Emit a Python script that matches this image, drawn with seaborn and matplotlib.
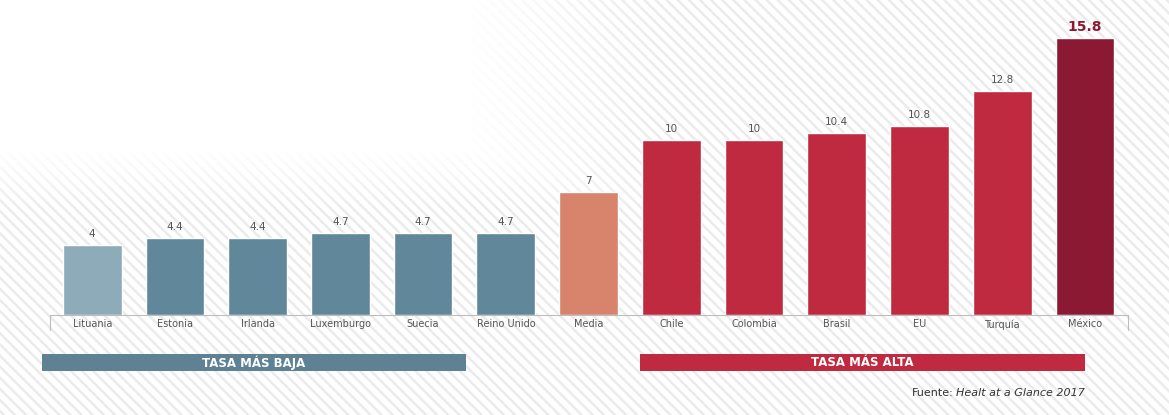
import numpy as np
import pandas as pd
import matplotlib
matplotlib.use("Agg")
import matplotlib.pyplot as plt
from matplotlib.patches import Rectangle
import seaborn as sns

# Tasa por país (Health at a Glance 2017)
paises = ["Lituania", "Estonia", "Irlanda", "Luxemburgo", "Suecia", "Reino Unido",
          "Media", "Chile", "Colombia", "Brasil", "EU", "Turquía", "México"]
tasas = [4, 4.4, 4.4, 4.7, 4.7, 4.7, 7, 10, 10, 10.4, 10.8, 12.8, 15.8]
etiquetas = ["4", "4.4", "4.4", "4.7", "4.7", "4.7", "7", "10", "10", "10.4", "10.8", "12.8", "15.8"]
colores = ["#8eabb9", "#60879a", "#60879a", "#60879a", "#60879a", "#60879a",
           "#d8836b", "#c02a40", "#c02a40", "#c02a40", "#c02a40", "#c02a40", "#8b1934"]

sns.set_theme(style="white")
plt.rcParams["font.family"] = ["DejaVu Sans"]

W, H = 1169, 415
fig = plt.figure(figsize=(W / 100, H / 100), dpi=100)

# Fondo rayado en diagonal
plt.rcParams["hatch.linewidth"] = 1.8
bg = Rectangle((0, 0), 1, 1, transform=fig.transFigure, facecolor="white",
               edgecolor="#ebebeb", hatch="\\\\\\", linewidth=0, zorder=-10)
fig.patches.append(bg)

# Desvanecido blanco en la esquina superior izquierda
fade_ax = fig.add_axes([0, 0, 1, 1], zorder=-5)
fade_ax.set_axis_off()
yy, xx = np.mgrid[0:H, 0:W]
alpha = np.clip((1 - np.maximum(xx / 660, yy / 210)) * 3.5, 0, 1)
rgba = np.ones((H, W, 4))
rgba[..., 3] = alpha
fade_ax.imshow(rgba, extent=(0, W, H, 0), aspect="auto")
fade_ax.set_xlim(0, W)
fade_ax.set_ylim(H, 0)

ax = fig.add_axes([50 / W, 100 / H, 1078 / W, 297.5 / H])
ax.patch.set_alpha(0)

df = pd.DataFrame({"pais": paises, "tasa": tasas})
sns.barplot(data=df, x="pais", y="tasa", hue="pais", palette=colores,
            legend=False, width=0.71, saturation=1, ax=ax)

ax.set_xlim(-0.51, 12.52)
ax.set_ylim(0, 17)
ax.set_xlabel("")
ax.set_ylabel("")
ax.set_yticks([])
for s in ["top", "left", "right"]:
    ax.spines[s].set_visible(False)
ax.spines["bottom"].set_color("#bdbdbd")
ax.spines["bottom"].set_linewidth(0.8)
ax.tick_params(axis="x", length=0, pad=3, labelsize=7, labelcolor="#555555")

# Remates verticales del eje
for xe in ax.get_xlim():
    ax.plot([xe, xe], [0, -0.85], color="#bdbdbd", lw=0.8, clip_on=False)

# Valores sobre las barras
for i, (v, t) in enumerate(zip(tasas, etiquetas)):
    if i == len(tasas) - 1:
        ax.text(i, v + 0.25, t, ha="center", va="bottom", fontsize=10,
                fontweight="bold", color="#8b1934")
    else:
        ax.text(i, v + 0.35, t, ha="center", va="bottom", fontsize=7.5,
                color="#555555")

# Bandas de grupo
def banda(x0, x1, color, texto):
    y0, y1 = 1 - 371 / H, 1 - 354 / H
    fig.patches.append(Rectangle((x0 / W, y0), (x1 - x0) / W, y1 - y0,
                                 transform=fig.transFigure, facecolor=color,
                                 edgecolor="none", zorder=2))
    fig.text((x0 + x1) / 2 / W, (y0 + y1) / 2, texto, ha="center", va="center",
             color="white", fontsize=8.5, fontweight="bold", zorder=3)

banda(42, 466, "#5e8193", "TASA MÁS BAJA")
banda(640, 1085, "#c02a40", "TASA MÁS ALTA")

t1 = fig.text(1085 / W, 1 - 393 / H, "Healt at a Glance 2017", ha="right",
              va="center", fontsize=8, style="italic", color="#333333")
fig.canvas.draw()
bb = t1.get_window_extent()
fig.text(bb.x0 / W - 0.002, 1 - 393 / H, "Fuente:", ha="right", va="center",
         fontsize=8, color="#333333")

fig.savefig("out.png", dpi=100)
